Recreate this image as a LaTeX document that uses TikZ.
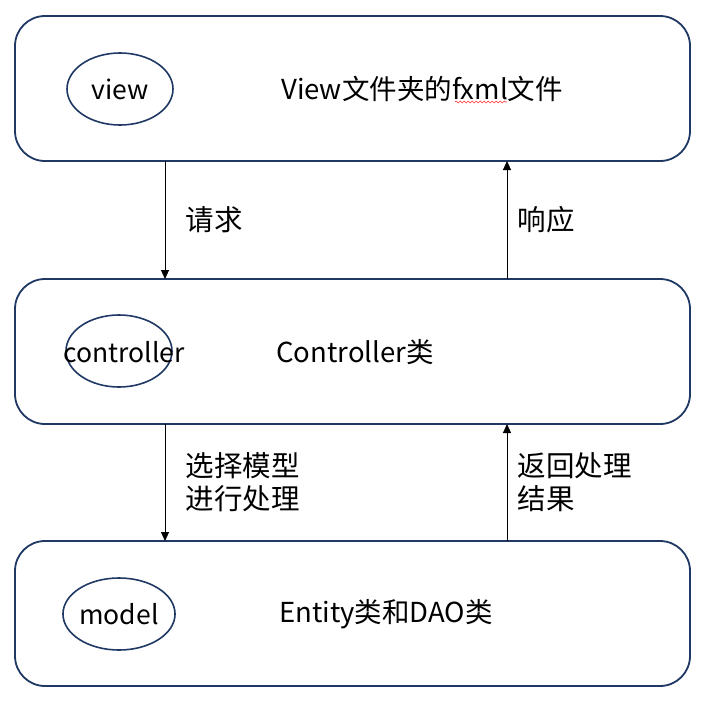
\documentclass[tikz,border=0pt]{standalone}
\usepackage{fontspec}
\setmainfont{Noto Sans CJK SC}
\usetikzlibrary{arrows.meta,decorations.pathmorphing,shapes.geometric}
\definecolor{navy}{HTML}{1F3864}
\tikzset{
  layer/.style={draw=navy,line width=1.8pt,rounded corners=30pt,minimum width=675pt,minimum height=145pt,inner sep=0pt},
  tag/.style={draw=navy,line width=1.6pt,ellipse,minimum width=106pt,minimum height=72pt,inner sep=0pt,font=\fontsize{26.5}{30}\selectfont},
  title/.style={font=\fontsize{27.5}{32}\selectfont},
  lbl/.style={font=\fontsize{28.5}{33}\selectfont,align=left,anchor=west},
  flow/.style={line width=1pt,-{Triangle[length=9pt,width=8pt]}}
}
\begin{document}
\begin{tikzpicture}[x=1pt,y=-1pt]
\useasboundingbox (0,0) rectangle (705,707);
\fill[white] (0,0) rectangle (705,707);
\node[layer] (v) at (352.5,88.5) {};
\node[layer] (c) at (352.5,351.5) {};
\node[layer] (m) at (352.5,613.5) {};
\node[tag] (ve) at (120,89) {view};
\node[tag] (ce) at (119,351) {};
\node[title,font=\fontsize{26.5}{30}\selectfont] (cet) at (124,352) {controller};
\node[tag] (me) at (119,614) {model};
\node[title] (vt) at (422,89) {View文件夹的fxml文件};
\node[title] (ct) at (355,352) {Controller类};
\node[title] (mt) at (386,614) {Entity类和DAO类};
\draw[red!80,line width=0.6pt,decoration={snake,amplitude=1pt,segment length=4pt},decorate] (455,102) -- (507,102);
\coordinate (a1s) at (165,161); \coordinate (a1e) at (165,279);
\coordinate (a2s) at (507,279); \coordinate (a2e) at (507,161);
\coordinate (a3s) at (165,424); \coordinate (a3e) at (165,541);
\coordinate (a4s) at (507,541); \coordinate (a4e) at (507,424);
\draw[flow] (a1s) -- (a1e);
\draw[flow] (a2s) -- (a2e);
\draw[flow] (a3s) -- (a3e);
\draw[flow] (a4s) -- (a4e);
\node[lbl] (l1) at (182,220) {请求};
\node[lbl] (l2) at (514,220) {响应};
\node[lbl] (l3) at (182,482) {选择模型\\进行处理};
\node[lbl] (l4) at (514,482) {返回处理\\结果};
\end{tikzpicture}
\end{document}
